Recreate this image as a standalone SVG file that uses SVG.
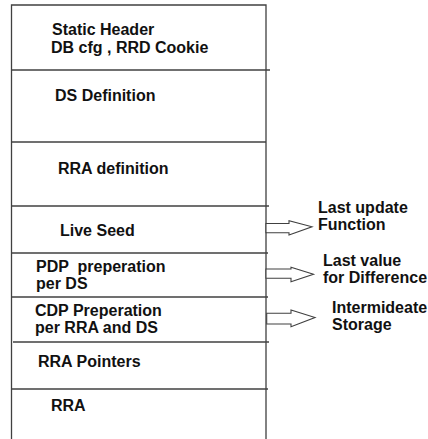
<svg xmlns="http://www.w3.org/2000/svg" width="428" height="439" viewBox="0 0 428 439">
<style>
.ln{stroke:#404040;stroke-width:1.3;fill:none}
.ar{stroke:#404040;stroke-width:1.1;fill:#fff;stroke-linejoin:miter}
text{font-family:"Liberation Sans",Arial,sans-serif;font-weight:bold;font-size:16px;fill:#111}
</style>
<rect width="428" height="439" fill="#fff"/>
<g id="frame">
<path class="ln" d="M11.5,439 V5 H266 V439"/>
</g>
<g id="dividers">
<line class="ln" x1="11.5" y1="70" x2="270" y2="70"/>
<line class="ln" x1="11.5" y1="142" x2="266" y2="142"/>
<line class="ln" x1="11.5" y1="206" x2="269" y2="206"/>
<line class="ln" x1="11.5" y1="253" x2="268" y2="253"/>
<line class="ln" x1="11.5" y1="297" x2="268" y2="297"/>
<line class="ln" x1="13" y1="342" x2="269" y2="342"/>
<line class="ln" x1="11.5" y1="389" x2="268" y2="389"/>
</g>
<g id="static-header">
<text x="52" y="35">Static Header</text>
<text x="51" y="52.5">DB cfg , RRD Cookie</text>
</g>
<g id="ds-definition"><text x="55" y="101">DS Definition</text></g>
<g id="rra-definition"><text x="58" y="174">RRA definition</text></g>
<g id="live-seed"><text x="60" y="236">Live Seed</text></g>
<g id="pdp-preparation">
<text x="36" y="272" xml:space="preserve">PDP  preperation</text>
<text x="36" y="289">per DS</text>
</g>
<g id="cdp-preparation">
<text x="35" y="316">CDP Preperation</text>
<text x="35" y="333">per RRA and DS</text>
</g>
<g id="rra-pointers"><text x="38" y="367">RRA Pointers</text></g>
<g id="rra"><text x="51" y="411">RRA</text></g>
<g id="last-update">
<text x="318" y="213">Last update</text>
<text x="318" y="230">Function</text>
</g>
<g id="last-value">
<text x="323" y="266">Last value</text>
<text x="323" y="283">for Difference</text>
</g>
<g id="intermediate-storage">
<text x="332" y="313">Intermideate</text>
<text x="332" y="330">Storage</text>
</g>
<g id="connectors">
<polygon class="ar" points="266,223.5 289,223.5 289,220.7 312,226.8 289,235 289,232.7 266,232.7"/>
<polygon class="ar" points="266,269 291,269 291,267.3 313.5,274.3 291,281.7 291,278.3 266,278.3"/>
<polygon class="ar" points="266.7,313.3 291,313.3 291,310 315,317.5 291,326.7 291,324 266.7,324"/>
</g>
</svg>
